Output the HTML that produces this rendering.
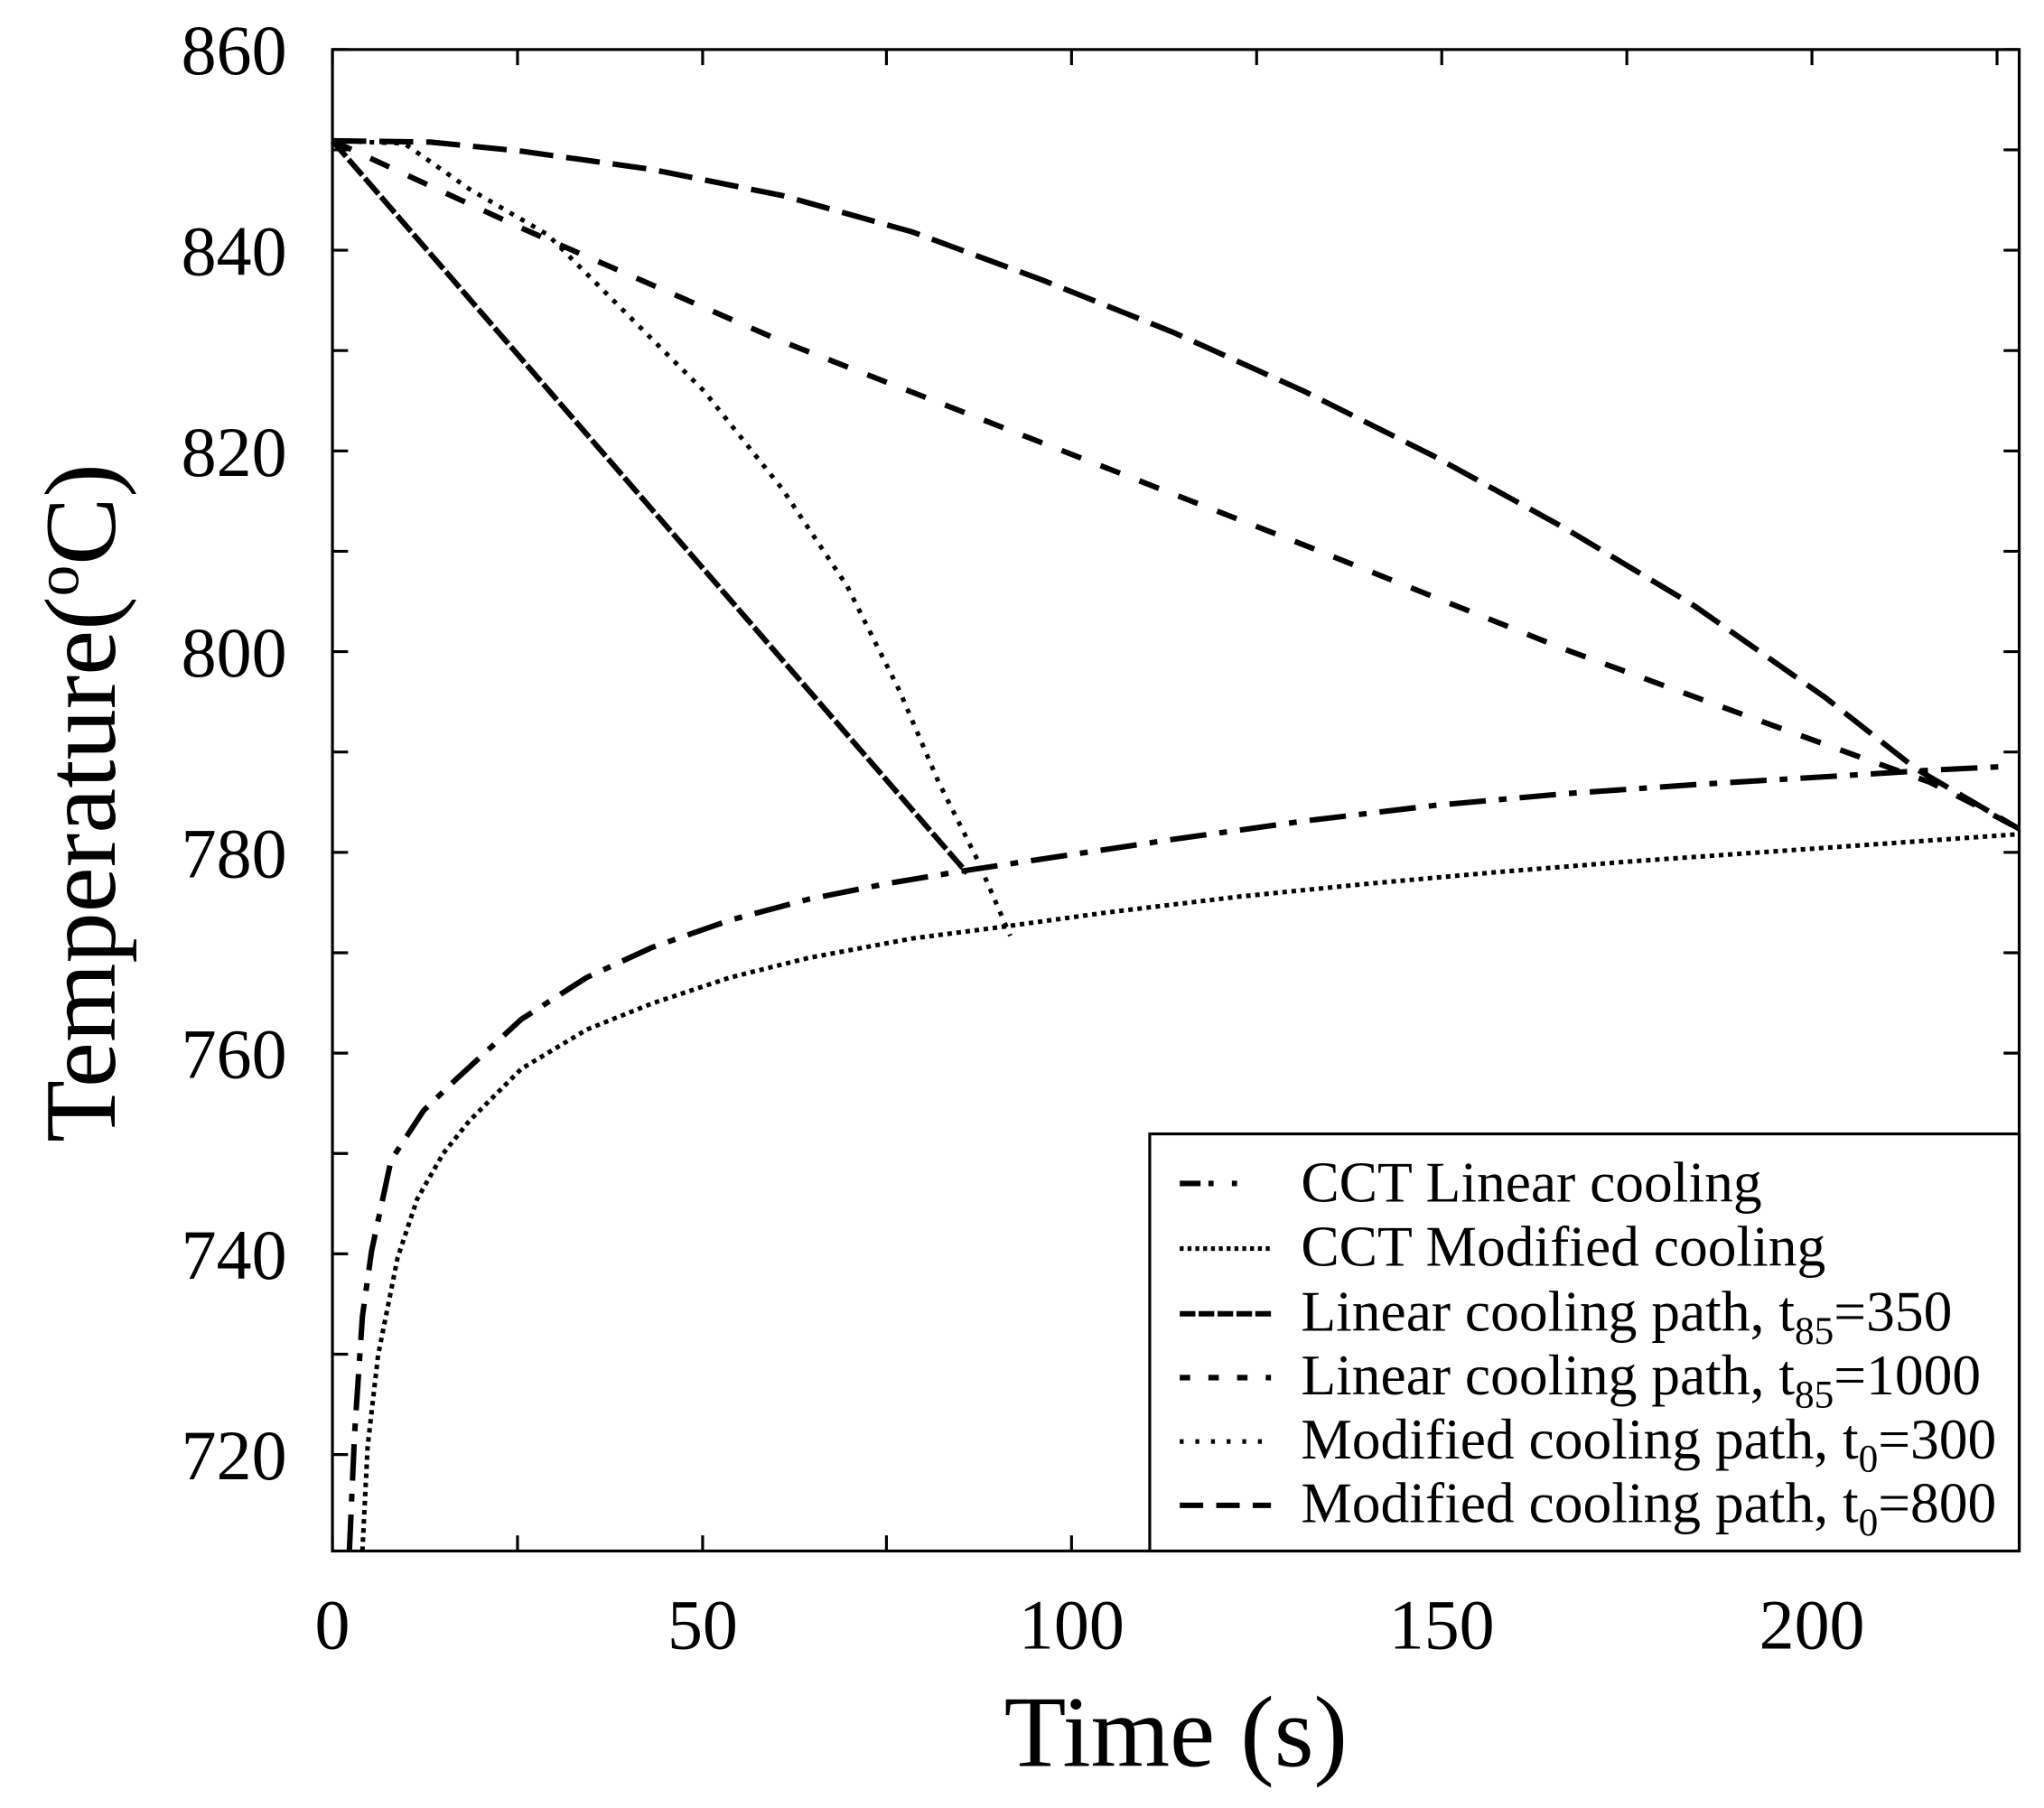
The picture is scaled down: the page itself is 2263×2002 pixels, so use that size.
<!DOCTYPE html>
<html><head><style>html,body{margin:0;padding:0;background:#fff}svg{display:block}</style></head>
<body>
<svg width="2263" height="2002" viewBox="0 0 1568 1387.2" xmlns="http://www.w3.org/2000/svg" font-family="Liberation Serif, serif">
<rect width="1568" height="1388" fill="#fff"/>
<g stroke="#000" stroke-width="2.2" fill="none">
<rect x="255" y="38" width="1294" height="1152"/>
<path d="M255,1190v-12M397,1190v-12M539,1190v-12M680,1190v-12M822,1190v-12M964,1190v-12M1106,1190v-12M1248,1190v-12M1390,1190v-12M1532,1190v-12
M255,38v12M397,38v12M539,38v12M680,38v12M822,38v12M964,38v12M1106,38v12M1248,38v12M1390,38v12M1532,38v12"/>
<path d="M255,38h12M255,115h12M255,192h12M255,269h12M255,346h12M255,423h12M255,500h12M255,577h12M255,654h12M255,731h12M255,808h12M255,885h12M255,962h12M255,1039h12M255,1116h12
M1549,38h-12M1549,115h-12M1549,192h-12M1549,269h-12M1549,346h-12M1549,423h-12M1549,500h-12M1549,577h-12M1549,654h-12M1549,731h-12M1549,808h-12"/>
</g>
<g font-size="54" text-anchor="end" fill="#000">
<text x="220" y="57">860</text><text x="220" y="211">840</text><text x="220" y="365">820</text><text x="220" y="519">800</text><text x="220" y="673">780</text><text x="220" y="827">760</text><text x="220" y="981">740</text><text x="220" y="1135">720</text>
</g>
<g font-size="54" text-anchor="middle" fill="#000">
<text x="255" y="1265">0</text><text x="539" y="1265">50</text><text x="822" y="1265">100</text><text x="1106" y="1265">150</text><text x="1390" y="1265">200</text>
</g>
<text x="902" y="1355" font-size="78" text-anchor="middle">Time (s)</text>
<text transform="translate(88,616) rotate(-90)" font-size="78" text-anchor="middle">Temperature(<tspan font-size="48" dy="-28">o</tspan><tspan dy="28">C)</tspan></text>
<g fill="none" stroke="#000" stroke-width="4.2">
<polyline stroke-dasharray="28,10,6,10" points="268,1190 272,1100 278,1010 285,960 300,890 325,852 350,828 400,782 450,750 500,727 560,706 620,690 680,678 740,668 820,656 900,644 1000,630 1100,618 1200,609 1300,602 1400,596 1480,591 1540,588"/>
<polyline stroke-width="3.5" stroke-dasharray="3.5,3.5" points="278,1190 282,1110 290,1040 305,965 320,920 340,885 360,860 400,820 450,790 500,770 560,750 620,735 700,720 770,711 850,700 950,688 1050,678 1150,669 1250,661 1350,654 1450,647 1549,640"/>
<polyline stroke-dasharray="16,3" points="255,108 742,670"/>
<polyline stroke-dasharray="16,16" points="255,108 400,175 600,262 800,340 1000,418 1200,498 1350,553 1430,582 1480,600 1510,615 1549,636"/>
<polyline stroke-width="3.5" stroke-dasharray="3.5,6" points="255,108 310,110 360,145 420,180 480,240 540,300 600,375 650,450 690,530 720,600 750,660 775,718"/>
<polyline stroke-dasharray="26,10" points="255,108 330,109 400,116 500,130 600,150 700,178 800,215 900,255 1000,300 1100,350 1200,405 1300,465 1400,535 1470,590 1549,636"/>
</g>
<rect x="882" y="870" width="667" height="320" fill="#fff" stroke="#000" stroke-width="2.2"/>
<g stroke="#000" stroke-width="4.2" fill="none">
<line x1="905" y1="908" x2="975" y2="908" stroke-dasharray="16,6,4,14,4,30"/>
<line x1="905" y1="958" x2="975" y2="958" stroke-width="3.5" stroke-dasharray="3,3"/>
<line x1="905" y1="1008" x2="975" y2="1008" stroke-dasharray="12,2.5"/>
<line x1="905" y1="1057" x2="975" y2="1057" stroke-dasharray="8,14"/>
<line x1="905" y1="1106" x2="975" y2="1106" stroke-width="3.5" stroke-dasharray="3,9"/>
<line x1="905" y1="1155" x2="975" y2="1155" stroke-dasharray="18,10"/>
</g>
<g font-size="44" fill="#000">
<text x="998" y="922">CCT Linear cooling</text>
<text x="998" y="971">CCT Modified cooling</text>
<text x="998" y="1021">Linear cooling path, t<tspan font-size="30" dy="10">85</tspan><tspan dy="-10">=350</tspan></text>
<text x="998" y="1070">Linear cooling path, t<tspan font-size="30" dy="10">85</tspan><tspan dy="-10">=1000</tspan></text>
<text x="998" y="1119">Modified cooling path, t<tspan font-size="30" dy="10">0</tspan><tspan dy="-10">=300</tspan></text>
<text x="998" y="1168">Modified cooling path, t<tspan font-size="30" dy="10">0</tspan><tspan dy="-10">=800</tspan></text>
</g>
</svg>
</body></html>
